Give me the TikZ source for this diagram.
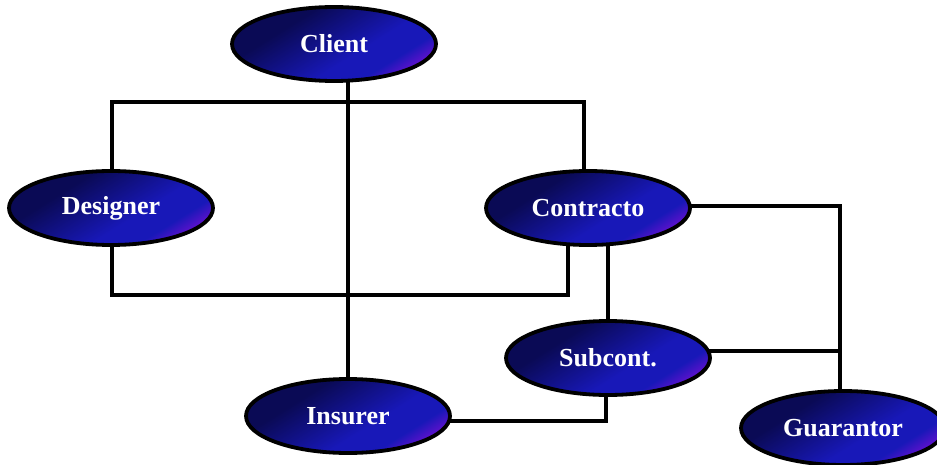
\documentclass[tikz,border=0pt]{standalone}
\usepackage{fontspec}
\setmainfont{Liberation Serif}
\usetikzlibrary{shapes.geometric,backgrounds}
\definecolor{gdark}{HTML}{0A0A55}
\definecolor{gmid}{HTML}{1818B8}
\definecolor{gpurp}{HTML}{6A10D0}
\pgfdeclarehorizontalshading{ellgrad}{100bp}{color(0bp)=(gdark); color(34bp)=(gdark); color(58bp)=(gmid); color(68bp)=(gmid); color(76bp)=(gpurp); color(100bp)=(gpurp)}
\tikzset{
  party/.style={ellipse, draw=black, line width=3.8pt, shading=ellgrad, shading angle=-58,
    minimum width=204pt, minimum height=74pt, inner sep=0pt,
    text=white, font=\fontsize{26}{30}\selectfont\bfseries},
  link/.style={draw=black, line width=3.4pt}
}
\begin{document}
\begin{tikzpicture}[x=1pt,y=-1pt]
\useasboundingbox (0,0) rectangle (937,465);
\node[party] (client) at (334,44) {Client};
\node[party] (designer) at (111,208) {Designer};
\node[party] (contr) at (588,208) {Contracto};
\node[party] (sub) at (608,358) {Subcont.};
\node[party] (insurer) at (348,416) {Insurer};
\node[party] (guar) at (843,428) {Guarantor};
\coordinate (busL) at (112,102);
\coordinate (busR) at (584,102);
\coordinate (lowL) at (112,295);
\coordinate (lowR) at (568,295);
\coordinate (subR) at (840,351);
\coordinate (insR) at (606,421);
\coordinate (guarR) at (840,206);
\begin{scope}[on background layer]
\draw[link] (designer.center -| busL) -- (busL) -- (busR) -- (busR |- contr.center);
\draw[link] (designer.center -| lowL) -- (lowL) -- (lowR) -- (lowR |- contr.center);
\draw[link] (insurer.center) -- (insurer.center |- client.center);
\draw[link] (sub.center) -- (sub.center |- contr.center);
\draw[link] (contr.center |- guarR) -- (guarR) -- (guarR |- guar.center);
\draw[link] (sub.center |- subR) -- (subR);
\draw[link] (insurer.center |- insR) -- (insR) -- (insR |- sub.center);
\end{scope}
\end{tikzpicture}
\end{document}
